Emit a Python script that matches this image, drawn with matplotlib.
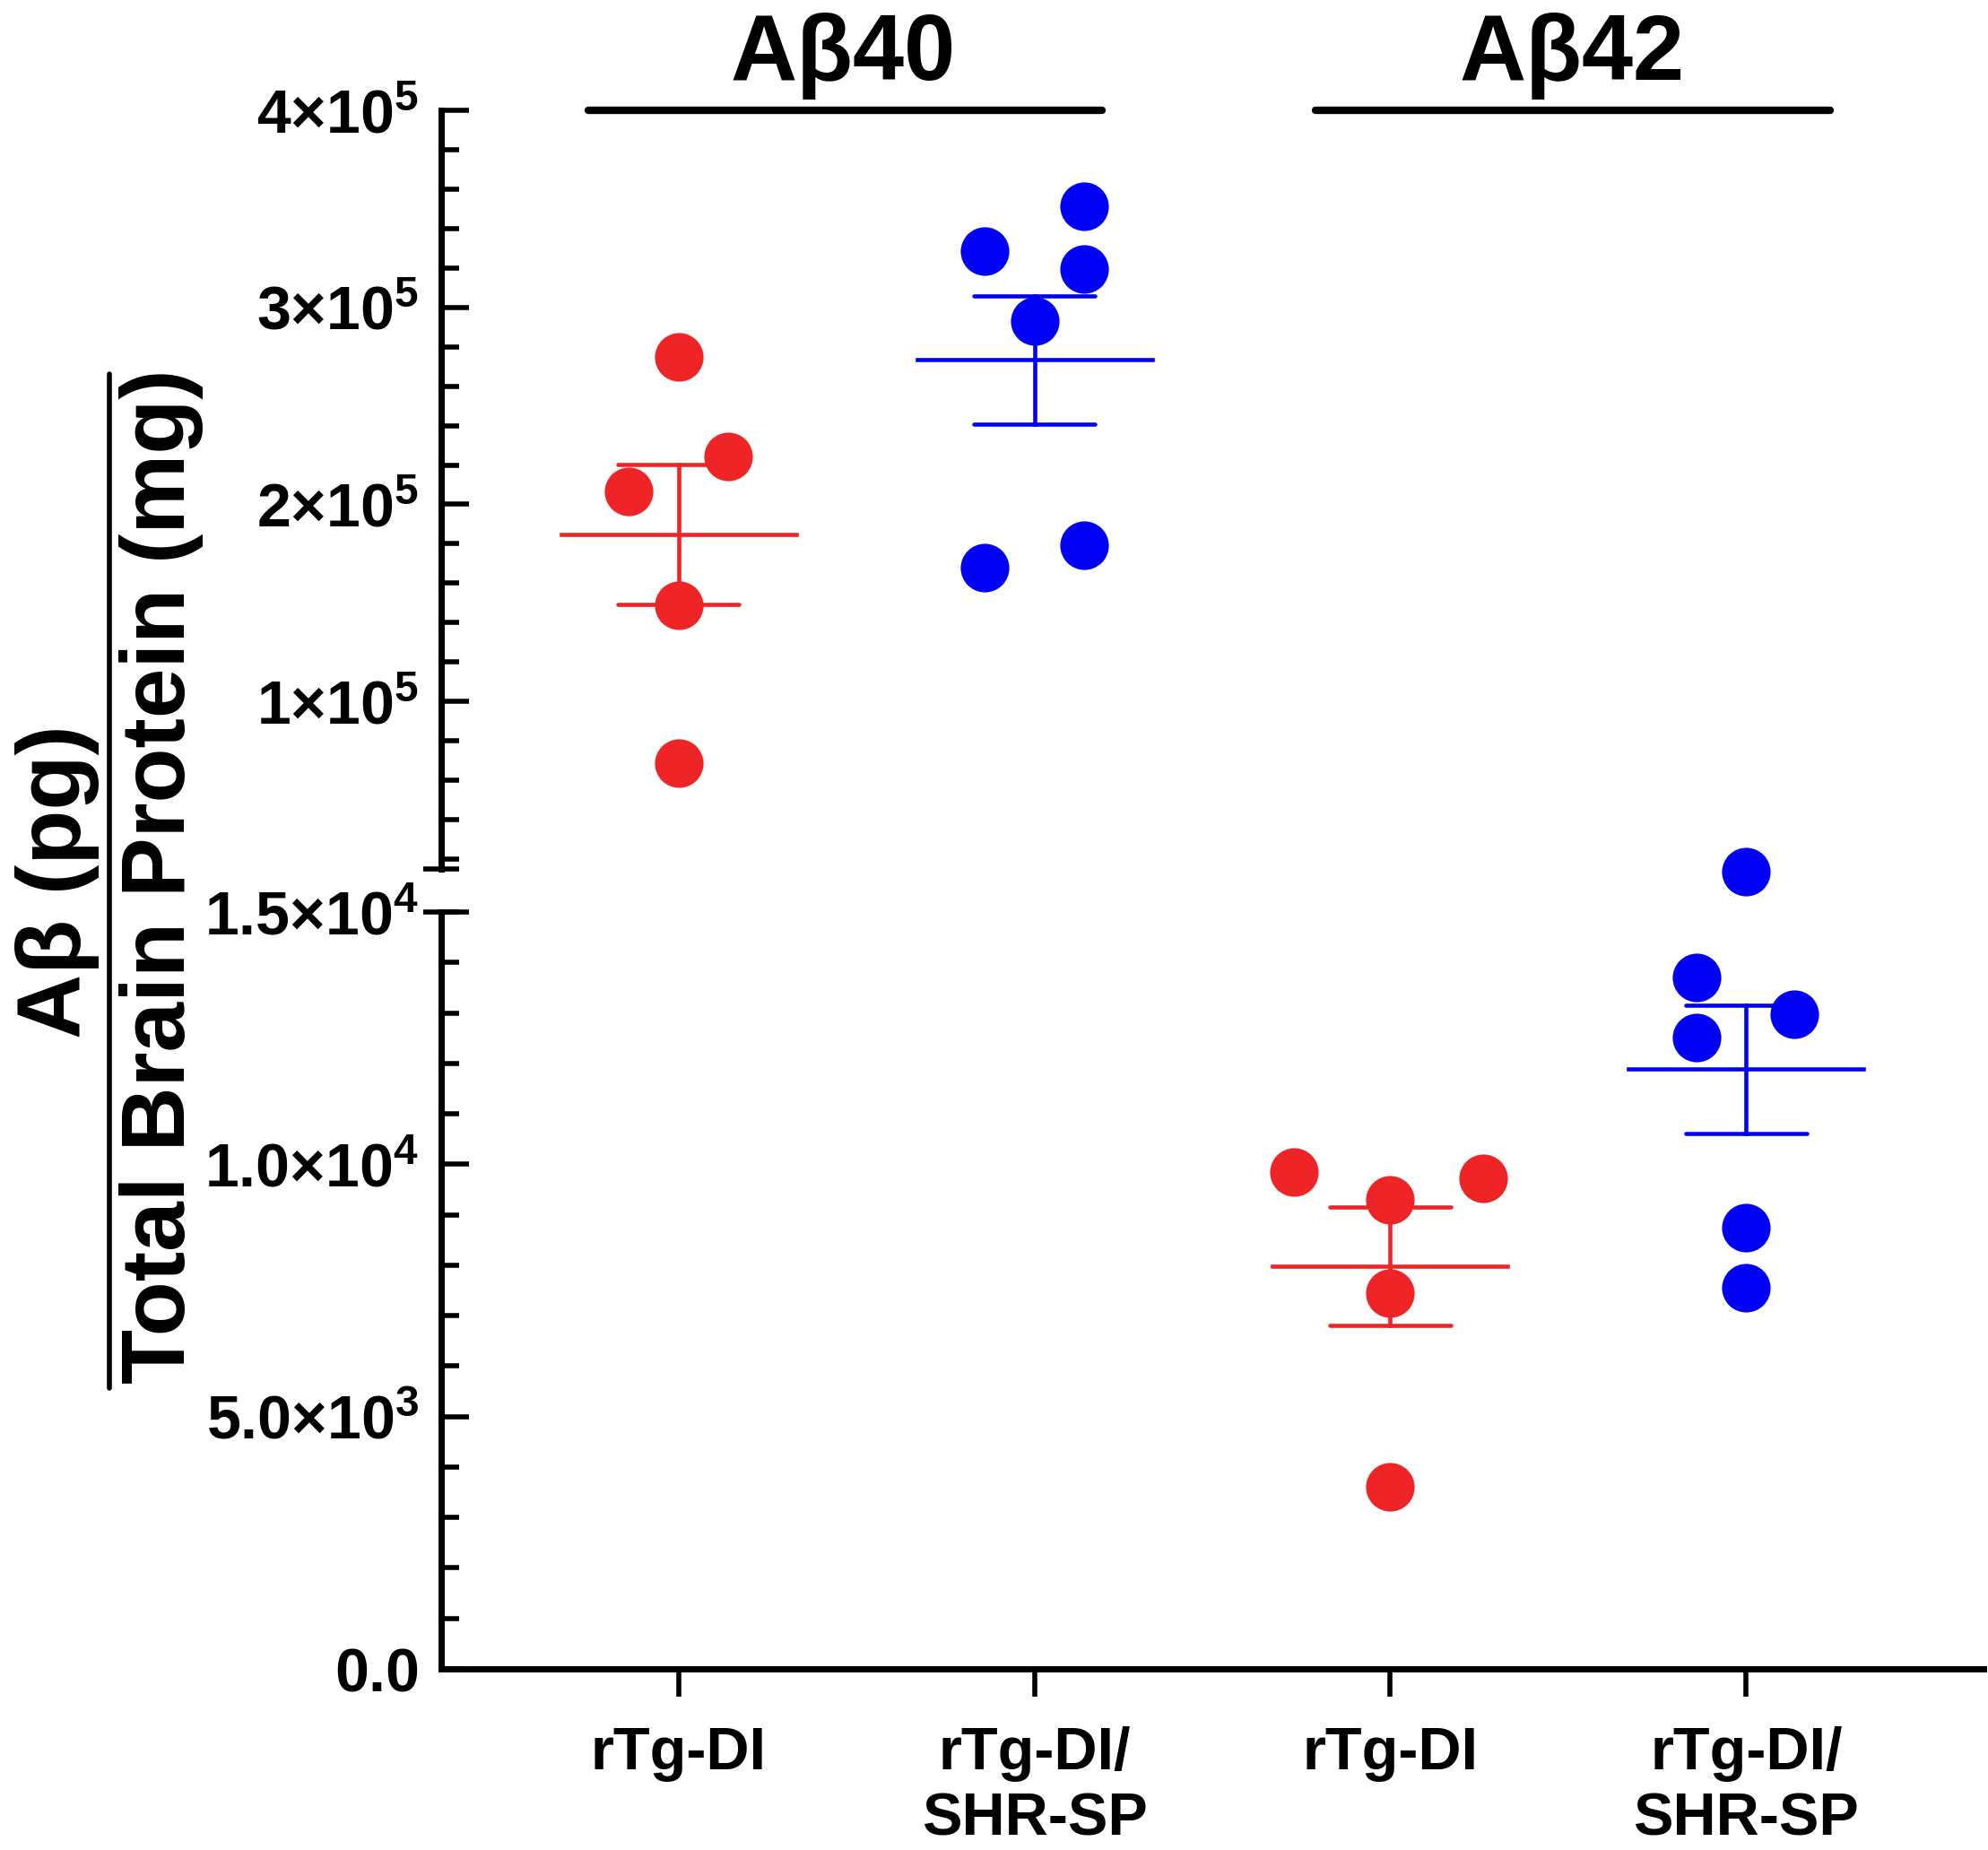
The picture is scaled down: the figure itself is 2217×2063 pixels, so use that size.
import numpy as np
import matplotlib
matplotlib.use("Agg")
import matplotlib.pyplot as plt
from matplotlib.ticker import MultipleLocator, FixedLocator, FixedFormatter
from matplotlib.lines import Line2D

plt.rcParams['font.family'] = ['Liberation Sans', 'DejaVu Sans']
plt.rcParams['font.weight'] = 'bold'
plt.rcParams['mathtext.fontset'] = 'custom'
plt.rcParams['mathtext.rm'] = 'Liberation Sans:bold'
plt.rcParams['mathtext.bf'] = 'Liberation Sans:bold'

# data
groups = ['rTg-DI', 'rTg-DI/\nSHR-SP', 'rTg-DI', 'rTg-DI/\nSHR-SP']
ab40_dl = [2.75e5, 2.245e5, 2.065e5, 1.49e5, 0.685e5]
ab40_shr = [3.515e5, 3.285e5, 3.195e5, 2.93e5, 1.795e5, 1.677e5]
ab42_dl = [0.985e4, 0.972e4, 0.93e4, 0.745e4, 0.36e4]
ab42_shr = [1.58e4, 1.37e4, 1.297e4, 1.252e4, 0.875e4, 0.755e4]
# horizontal scatter of the dots
jit40_dl = [0, 0.14, -0.14, 0, 0]
jit40_shr = [0.14, -0.14, 0.14, 0, 0.14, -0.14]
jit42_dl = [-0.27, 0.26, 0, 0, 0]
jit42_shr = [0, -0.14, 0.135, -0.14, 0, 0]

top_ticks = [1e5, 2e5, 3e5, 4e5]
top_labels = [r'$\mathbf{1{\times}10^{5}}$', r'$\mathbf{2{\times}10^{5}}$',
              r'$\mathbf{3{\times}10^{5}}$', r'$\mathbf{4{\times}10^{5}}$']
bot_ticks = [0, 5e3, 1e4, 1.5e4]
bot_labels = [r'$\mathbf{0.0}$', r'$\mathbf{5.0{\times}10^{3}}$',
              r'$\mathbf{1.0{\times}10^{4}}$', r'$\mathbf{1.5{\times}10^{4}}$']

RED = '#EE2427'
BLUE = '#0000F5'

W, H = 2217, 2063
fig = plt.figure(figsize=(W / 100, H / 100), dpi=100)
left = 492 / W
width = (2212 - 492) / W
ax_top = fig.add_axes([left, 1 - 969 / H, width, (969 - 123) / H])
ax_bot = fig.add_axes([left, 1 - 1861 / H, width, (1861 - 1017) / H])

for ax in (ax_top, ax_bot):
    ax.set_xlim(-0.667, 3.667)
    ax.set_facecolor('none')
    for s in ('top', 'right'):
        ax.spines[s].set_visible(False)
    ax.spines['left'].set_linewidth(5)
    ax.spines['bottom'].set_linewidth(5)
    ax.tick_params(axis='y', which='major', direction='in', length=22, width=4,
                   labelsize=49, pad=18)
    ax.tick_params(axis='y', which='minor', direction='in', length=14.5, width=4)

ax_top.spines['bottom'].set_visible(False)
ax_top.set_xticks([])
ax_top.set_ylim(1.5e4, 4e5)
ax_top.yaxis.set_major_locator(FixedLocator(top_ticks))
ax_top.yaxis.set_major_formatter(FixedFormatter(top_labels))
ax_top.yaxis.set_minor_locator(MultipleLocator(2e4))

ax_bot.set_ylim(0, 1.5e4)
ax_bot.yaxis.set_major_locator(FixedLocator(bot_ticks))
ax_bot.yaxis.set_major_formatter(FixedFormatter(bot_labels))
ax_bot.yaxis.set_minor_locator(MultipleLocator(1e3))
ax_bot.set_xticks(range(len(groups)))
ax_bot.set_xticklabels(groups, fontsize=48, linespacing=1.25)
ax_bot.tick_params(axis='x', direction='out', length=22, width=4, pad=24)


def draw_group(ax, xc, vals, jit, color):
    vals = np.array(vals)
    m = vals.mean()
    sem = vals.std(ddof=1) / np.sqrt(len(vals))
    ax.plot([xc - 0.33, xc + 0.33], [m, m], color=color, lw=3.3, zorder=2,
            clip_on=False)
    ax.plot([xc, xc], [m - sem, m + sem], color=color, lw=3.3, zorder=2)
    for yv in (m - sem, m + sem):
        ax.plot([xc - 0.17, xc + 0.17], [yv, yv], color=color, lw=3.3,
                solid_capstyle='round', zorder=2)
    ax.plot(xc + np.array(jit), vals, 'o', ms=39, color=color, mec='none',
            zorder=3, clip_on=False)


draw_group(ax_top, 0, ab40_dl, jit40_dl, RED)
draw_group(ax_top, 1, ab40_shr, jit40_shr, BLUE)
draw_group(ax_bot, 2, ab42_dl, jit42_dl, RED)
draw_group(ax_bot, 3, ab42_shr, jit42_shr, BLUE)

# axis break marks
bw = 20 / (2212 - 492)
ax_top.plot([-bw, bw], [0, 0], transform=ax_top.transAxes, color='k', lw=4,
            clip_on=False, solid_capstyle='butt')
ax_bot.plot([-bw, bw], [1, 1], transform=ax_bot.transAxes, color='k', lw=4,
            clip_on=False, solid_capstyle='butt')

# group headers
ax_top.plot([-0.253, 1.19], [4e5, 4e5], color='k', lw=6, clip_on=False,
            solid_capstyle='round')
ax_top.plot([1.79, 3.236], [4e5, 4e5], color='k', lw=6, clip_on=False,
            solid_capstyle='round')
ax_top.text(0.462, 1.04, 'Aβ40', transform=ax_top.get_xaxis_transform(),
            ha='center', va='baseline', fontsize=74, fontweight='bold')
ax_top.text(2.51, 1.04, 'Aβ42', transform=ax_top.get_xaxis_transform(),
            ha='center', va='baseline', fontsize=74, fontweight='bold')

# y label as a fraction
fig.text(64 / W, 1 - 983 / H, 'Aβ (pg)', rotation=90, ha='center', va='center',
         fontsize=72, fontweight='bold')
fig.text(180 / W, 1 - 977 / H, 'Total Brain Protein (mg)', rotation=90,
         ha='center', va='center', fontsize=72, fontweight='bold')
fig.add_artist(Line2D([122 / W, 122 / W], [1 - 417 / H, 1 - 1548 / H],
                      transform=fig.transFigure, color='k', lw=4,
                      solid_capstyle='round'))

fig.savefig('out.png', dpi=100, facecolor='white')
